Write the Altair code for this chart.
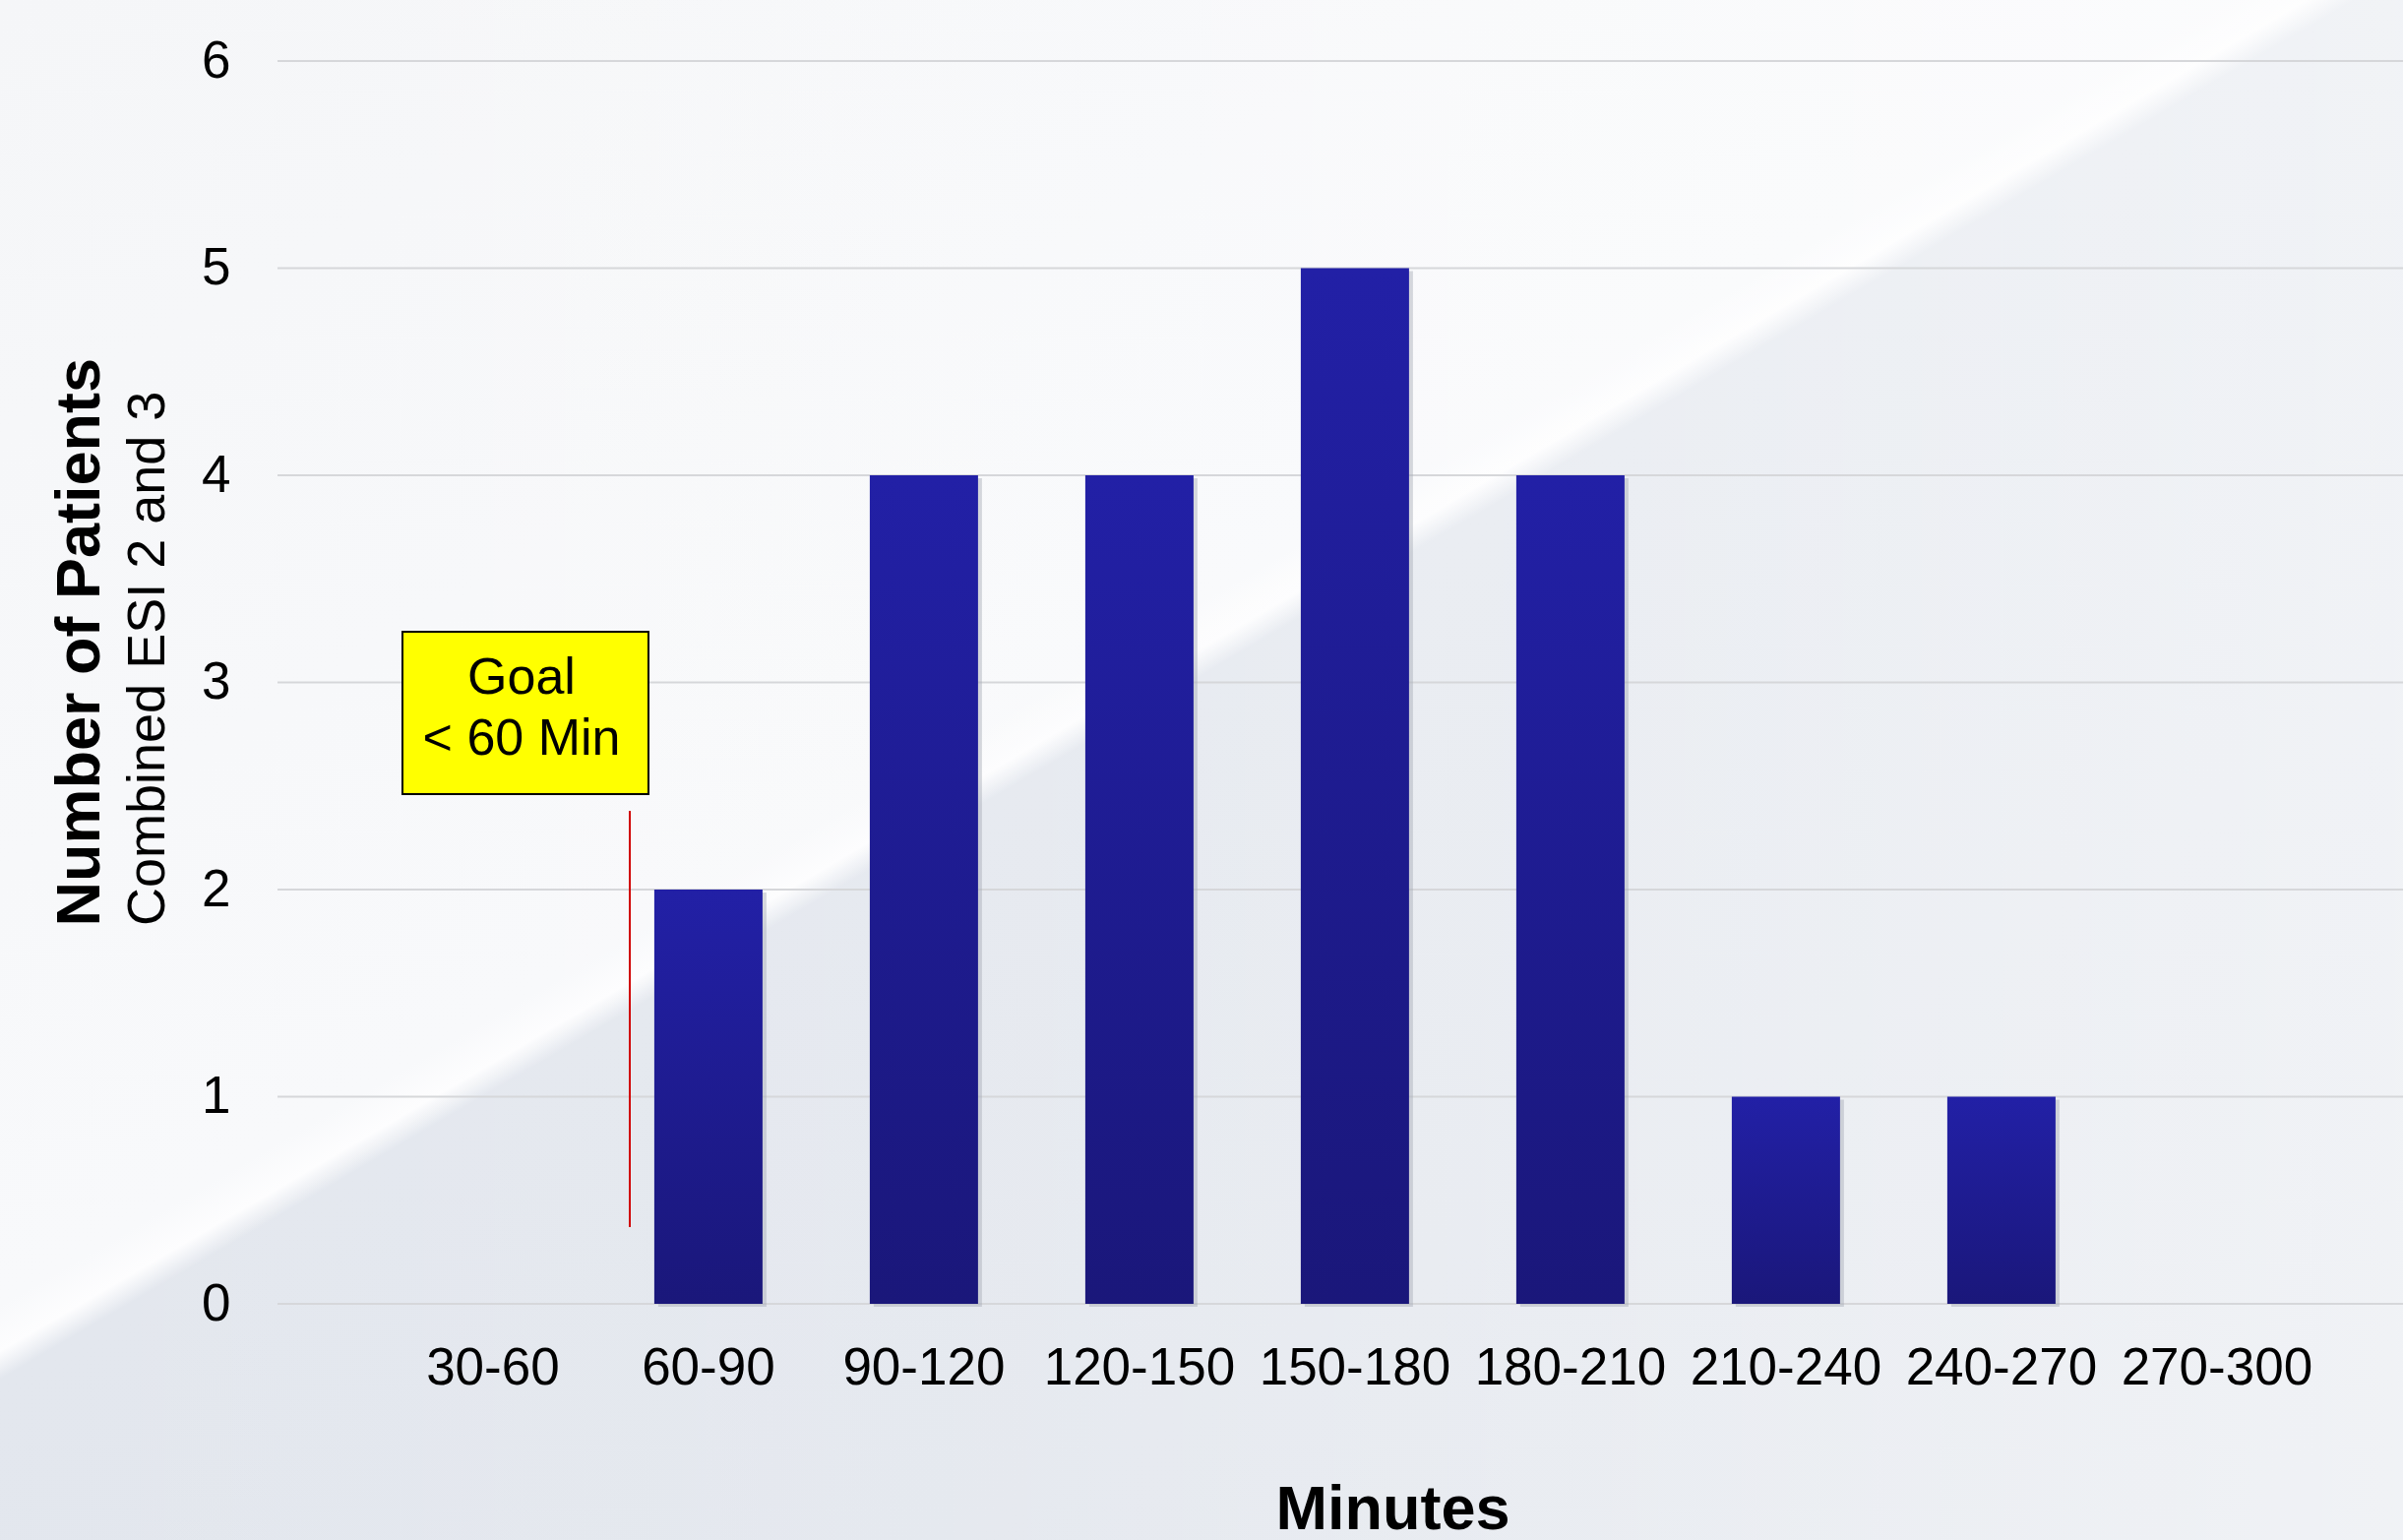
import altair as alt
import pandas as pd

# ---------------- data ----------------
categories = ["30-60", "60-90", "90-120", "120-150", "150-180",
              "180-210", "210-240", "240-270", "270-300"]
patients = [0, 2, 4, 4, 5, 4, 1, 1, 0]
y_ticks = [0, 1, 2, 3, 4, 5, 6]
goal_lines = ["Goal", "< 60 Min"]
x_title = "Minutes"
y_title = "Number of Patients"
y_subtitle = "Combined ESI 2 and 3"

# ---------------- layout ----------------
W, H = 2160, 1263
PAD_L, PAD_T, PAD_B = 282, 62, 240
FONT = "Liberation Sans"

bars_df = pd.DataFrame({"range": categories, "patients": patients})
ticks_df = pd.DataFrame({"tick": y_ticks})
one = pd.DataFrame({"k": [0]})

x_scale = alt.Scale(domain=categories, paddingInner=0.4977,
                    paddingOuter=0.6804, align=0.55)
y_scale = alt.Scale(domain=[0, 6], nice=False, zero=True)

x_axis = alt.Axis(
    labelAngle=0, labelFontSize=53, labelFont=FONT, labelColor="#000000",
    labelPadding=39, labelLimit=600, labelOverlap=False,
    ticks=False, tickSize=0, domain=False, grid=False, zindex=1,
    title=x_title, titleFont=FONT, titleFontSize=63, titleFontWeight="bold",
    titleColor="#000000", titleX=1133, titleY=228, titleAlign="center",
    titleBaseline="alphabetic",
)
y_axis = alt.Axis(
    values=y_ticks, format="d", labelFontSize=53, labelFont=FONT,
    labelColor="#000000", labelPadding=48, ticks=False, tickSize=0,
    domain=False, grid=False, zindex=1,
    title=y_title, titleFont=FONT, titleFontSize=63, titleFontWeight="bold",
    titleColor="#000000", titleAngle=270, titleAlign="left",
    titleBaseline="alphabetic", titleX=-182, titleY=879, titleLimit=2000,
)

bg_grad = alt.LinearGradient(
    gradient="linear",
    stops=[
        alt.GradientStop(color="#F5F6F8", offset=0),
        alt.GradientStop(color="#F8F9FB", offset=0.462),
        alt.GradientStop(color="#FDFDFE", offset=0.478),
        alt.GradientStop(color="#E3E7EE", offset=0.488),
        alt.GradientStop(color="#E1E5EC", offset=1),
    ],
    x1=0, y1=0, x2=0.914, y2=1.0,
)
light_grad = alt.LinearGradient(
    gradient="linear",
    stops=[
        alt.GradientStop(color="rgba(255,255,255,0)", offset=0),
        alt.GradientStop(color="rgba(255,255,255,0.12)", offset=0.4),
        alt.GradientStop(color="rgba(255,255,255,0.5)", offset=1),
    ],
    x1=0, y1=0, x2=1, y2=0,
)
bar_grad = alt.LinearGradient(
    gradient="linear",
    stops=[
        alt.GradientStop(color="#2220A6", offset=0),
        alt.GradientStop(color="#1A177A", offset=1),
    ],
    x1=0, y1=0, x2=0, y2=1,
)

bg = alt.Chart(one).mark_rect(fill=bg_grad).encode(
    x=alt.value(-PAD_L), x2=alt.value(W), y=alt.value(-PAD_T), y2=alt.value(H + PAD_B)
)
bg_light = alt.Chart(one).mark_rect(fill=light_grad).encode(
    x=alt.value(-PAD_L), x2=alt.value(W), y=alt.value(-PAD_T), y2=alt.value(H + PAD_B)
)

grid = alt.Chart(ticks_df).mark_rule(color="#D6D7DA", strokeWidth=2).encode(
    y=alt.Y("tick:Q", scale=y_scale, axis=y_axis),
    x=alt.value(0), x2=alt.value(W),
)

shadow = alt.Chart(bars_df).mark_bar(
    color="#A6ABB6", opacity=0.45, xOffset=4, yOffset=3, y2Offset=3
).encode(
    x=alt.X("range:N", scale=x_scale, axis=x_axis, sort=None),
    y=alt.Y("patients:Q", scale=y_scale, axis=y_axis),
)

bars = alt.Chart(bars_df).mark_bar(fill=bar_grad).encode(
    x=alt.X("range:N", scale=x_scale, axis=x_axis, sort=None),
    y=alt.Y("patients:Q", scale=y_scale, axis=y_axis),
)

goal_rule = alt.Chart(one).mark_rule(color="#D00000", strokeWidth=2).encode(
    x=alt.value(358), y=alt.value(762), y2=alt.value(1185)
)

goal_box = alt.Chart(one).mark_rect(
    fill="#FFFF00", stroke="#000000", strokeWidth=2
).encode(
    x=alt.value(127), x2=alt.value(377), y=alt.value(580), y2=alt.value(745)
)

goal_text = alt.Chart(one).mark_text(
    font=FONT, fontSize=52, color="#000000", align="center",
    baseline="alphabetic", lineHeight=62,
).encode(x=alt.value(248), y=alt.value(643), text=alt.value(goal_lines))

sub_text = alt.Chart(one).mark_text(
    font=FONT, fontSize=54, color="#000000", angle=270, align="left",
    baseline="alphabetic",
).encode(x=alt.value(-115), y=alt.value(879), text=alt.value(y_subtitle))

chart = alt.layer(
    bg, bg_light, grid, shadow, bars, goal_rule, goal_box, goal_text, sub_text
).properties(
    width=W, height=H,
    autosize=alt.AutoSizeParams(type="none"),
    padding={"left": PAD_L, "top": PAD_T, "right": 0, "bottom": PAD_B},
    background="#F5F6F8",
).configure_view(stroke=None).configure(font=FONT)

chart.save("out.html", embed_options={"renderer": "svg", "actions": False})
